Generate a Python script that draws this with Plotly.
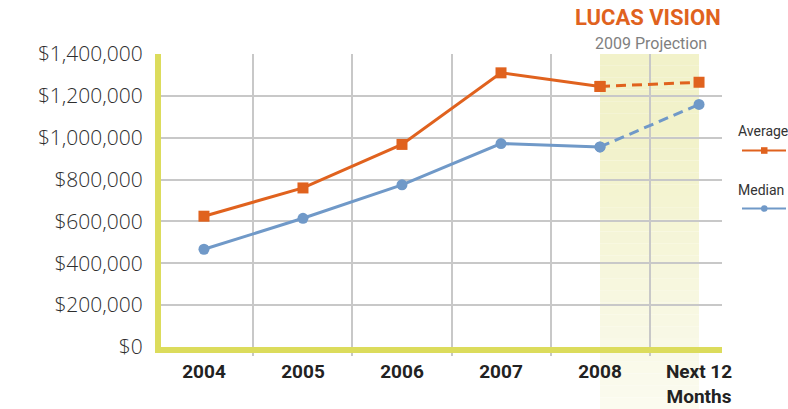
import plotly.graph_objects as go

# ---- data ----
categories = ["2004", "2005", "2006", "2007", "2008", "Next 12<br>Months"]
average = [625000, 760000, 968000, 1310000, 1245000, 1265000]
median = [467000, 615000, 775000, 972000, 956000, 1159000]
y_ticks = [0, 200000, 400000, 600000, 800000, 1000000, 1200000, 1400000]
y_tick_labels = ["$0", "$200,000", "$400,000", "$600,000", "$800,000",
                 "$1,000,000", "$1,200,000", "$1,400,000"]
projection_start = 4  # index of 2008, projection runs to last category

# ---- styling constants ----
W, H = 788, 409
L, R, T, B = 161, 722, 54, 347
ORANGE = "#E0621E"
BLUE = "#7099C8"
YELLOW = "#DCDC5C"
GRID = "#C8C8C8"
X_RANGE = [-0.434, 5.232]


def px_x(x):
    return (x - L) / (R - L)


def px_y(y):
    return (B - y) / (B - T)


def cat_to_paper(i):
    return (i - X_RANGE[0]) / (X_RANGE[1] - X_RANGE[0])


fig = go.Figure()

n_hist = projection_start + 1
for vals, color, symbol, name in [
    (average, ORANGE, "square", "Average"),
    (median, BLUE, "circle", "Median"),
]:
    fig.add_trace(go.Scatter(
        x=categories[:n_hist], y=vals[:n_hist], mode="lines+markers", name=name,
        line=dict(color=color, width=3),
        marker=dict(symbol=symbol, size=11, color=color),
        showlegend=False, cliponaxis=False,
    ))
    fig.add_trace(go.Scatter(
        x=categories[projection_start:], y=vals[projection_start:], mode="lines+markers",
        name=name, line=dict(color=color, width=3, dash="10px,6px"),
        marker=dict(symbol=symbol, size=11, color=color),
        showlegend=False, cliponaxis=False,
    ))

shapes = []
# projection band with vertical gradient (drawn as thin slices)
x0 = cat_to_paper(projection_start)
x1 = cat_to_paper(len(categories) - 1)
top_px, bot_px = T, H
N = 30
c_top = (242, 242, 202)
c_bot = (251, 251, 240)
for k in range(N):
    ya = top_px + (bot_px - top_px) * k / N
    yb = top_px + (bot_px - top_px) * (k + 1) / N
    t = (k + 0.5) / N
    f = 0 if t < 0.25 else (t - 0.25) / 0.75
    c = tuple(round(c_top[j] + (c_bot[j] - c_top[j]) * f) for j in range(3))
    shapes.append(dict(type="rect", xref="paper", yref="paper",
                       x0=x0, x1=x1, y0=px_y(yb), y1=px_y(ya),
                       fillcolor="rgb(%d,%d,%d)" % c, line=dict(width=0), layer="below"))

# custom legend samples
for ycen, color, kind in [(150.5, ORANGE, "rect"), (208.5, BLUE, "circle")]:
    shapes.append(dict(type="line", xref="paper", yref="paper",
                       x0=px_x(742), x1=px_x(786), y0=px_y(ycen), y1=px_y(ycen),
                       line=dict(color=color, width=2)))
    shapes.append(dict(type=kind, xref="paper", yref="paper",
                       x0=px_x(761), x1=px_x(767.5), y0=px_y(ycen + 3.3), y1=px_y(ycen - 3.3),
                       fillcolor=color, line=dict(width=0)))

annotations = [
    dict(text="<b>LUCAS VISION</b>", xref="paper", yref="paper", x=px_x(723), y=px_y(18),
         xanchor="right", yanchor="middle", showarrow=False,
         font=dict(family="Roboto", size=22, color=ORANGE)),
    dict(text="2009 Projection", xref="paper", yref="paper", x=px_x(651), y=px_y(43),
         xanchor="center", yanchor="middle", showarrow=False,
         font=dict(family="Roboto", size=16, color="#7f7f7f")),
    dict(text="Average", xref="paper", yref="paper", x=px_x(736), y=px_y(131),
         xanchor="left", yanchor="middle", showarrow=False,
         font=dict(family="Roboto", size=14, color="#333333")),
    dict(text="Median", xref="paper", yref="paper", x=px_x(736), y=px_y(190),
         xanchor="left", yanchor="middle", showarrow=False,
         font=dict(family="Roboto", size=14, color="#333333")),
]

fig.update_layout(
    width=W, height=H,
    margin=dict(l=L, r=W - R, t=T, b=H - B, autoexpand=False),
    paper_bgcolor="white", plot_bgcolor="rgba(0,0,0,0)",
    shapes=shapes, annotations=annotations,
    xaxis=dict(
        type="category", categoryorder="array", categoryarray=categories,
        range=X_RANGE, tickson="boundaries", automargin=False,
        showgrid=True, gridcolor=GRID, gridwidth=1.5,
        showline=True, linecolor=YELLOW, linewidth=6,
        ticks="outside", tickcolor=GRID, ticklen=3, tickwidth=1.5,
        ticklabelstandoff=2,
        tickfont=dict(family="Roboto", size=19, color="#222222", weight="bold"),
        zeroline=False, fixedrange=True,
    ),
    yaxis=dict(
        range=[0, 1400000], tickvals=y_ticks, ticktext=y_tick_labels, automargin=False,
        showgrid=True, gridcolor=GRID, gridwidth=1.5,
        showline=True, linecolor=YELLOW, linewidth=6,
        ticks="", zeroline=False, ticklabelstandoff=8,
        tickfont=dict(family="Open Sans", size=21, color="#2e2e2e", weight=300),
        fixedrange=True,
    ),
)

fig.write_html("out.html", config={"displayModeBar": False},
               post_script="document.body.style.margin='0px';")
